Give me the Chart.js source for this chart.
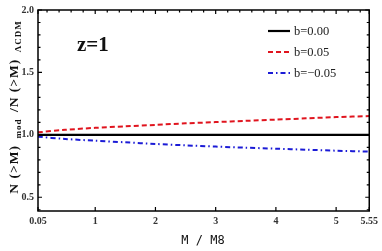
<!DOCTYPE html>
<html>
<head>
<meta charset="utf-8">
<script src="https://cdn.jsdelivr.net/npm/chart.js@4.4.1/dist/chart.umd.min.js"></script>
<style>
  html, body { margin: 0; padding: 0; background: #fff; }
  #wrap { width: 382px; height: 251px; position: relative; }
</style>
</head>
<body>
<div id="wrap"><canvas id="c"></canvas></div>
<script>
    // values
    const massRatio = [0.05, 0.5, 1, 1.5, 2, 2.5, 3, 3.5, 4, 4.5, 5, 5.55];
    const bZero = [1, 1, 1, 1, 1, 1, 1, 1, 1, 1, 1, 1];
    const bPos = [1.02, 1.04, 1.056, 1.068, 1.08, 1.092, 1.102, 1.112, 1.122, 1.132, 1.142, 1.15];
    const bNeg = [0.985, 0.967, 0.953, 0.94, 0.927, 0.916, 0.906, 0.897, 0.889, 0.881, 0.873, 0.866];
    const seriesLabels = ['b=0.00', 'b=0.05', 'b=\u22120.05'];
    const xTicks = [0.05, 1, 2, 3, 4, 5, 5.55];
    const yTicks = [0.5, 1.0, 1.5, 2.0];
    const xMinor = [0.2, 0.4, 0.6, 0.8, 1.2, 1.4, 1.6, 1.8, 2.2, 2.4, 2.6, 2.8, 3.2, 3.4, 3.6, 3.8,
        4.2, 4.4, 4.6, 4.8, 5.2, 5.4];
    const yMinor = [0.4, 0.6, 0.7, 0.8, 0.9, 1.1, 1.2, 1.3, 1.4, 1.6, 1.7, 1.8, 1.9];

    const pts = ys => massRatio.map((x, i) => ({ x, y: ys[i] }));

    const TICK_FONT = { family: 'Liberation Serif', size: 10, weight: 'bold' };

    const frame = {
        id: 'frame',
        afterDraw(chart) {
            const { ctx, chartArea: a, scales: { x, y } } = chart;
            ctx.save();
            ctx.strokeStyle = '#000';
            ctx.lineWidth = 1.5;
            ctx.strokeRect(a.left, a.top, a.right - a.left, a.bottom - a.top);
            ctx.lineWidth = 1.2;
            ctx.beginPath();
            const tx = (v, len, sides) => {
                const px = x.getPixelForValue(v);
                if (sides.includes('b')) { ctx.moveTo(px, a.bottom); ctx.lineTo(px, a.bottom - len); }
                if (sides.includes('t')) { ctx.moveTo(px, a.top); ctx.lineTo(px, a.top + len); }
            };
            const ty = (v, len) => {
                const py = y.getPixelForValue(v);
                ctx.moveTo(a.left, py); ctx.lineTo(a.left + len, py);
                ctx.moveTo(a.right, py); ctx.lineTo(a.right - len, py);
            };
            xTicks.forEach(v => tx(v, 4, 'bt'));
            xMinor.forEach(v => tx(v, 2.5, 't'));
            yTicks.forEach(v => ty(v, 4));
            yMinor.forEach(v => ty(v, 2.5));
            ctx.stroke();

            // z label
            ctx.fillStyle = '#111';
            ctx.font = 'bold 21px "Liberation Serif"';
            ctx.textBaseline = 'middle';
            ctx.fillText('z=1', 77, 46);

            // legend
            const rows = [31, 52, 73];
            chart.data.datasets.forEach((ds, i) => {
                ctx.strokeStyle = ds.borderColor;
                ctx.lineWidth = ds.borderWidth;
                ctx.setLineDash(ds.borderDash || []);
                ctx.beginPath();
                ctx.moveTo(268, rows[i]);
                ctx.lineTo(290, rows[i]);
                ctx.stroke();
                ctx.setLineDash([]);
                ctx.fillStyle = '#222';
                ctx.font = '12.5px "Liberation Serif"';
                ctx.fillText(ds.label, 294, rows[i] + 0.5);
            });

            // y title with subscripts
            const parts = [
                ['N (>M)', 13.5, 0], ['  mod  ', 9, 3], ['/N (>M)', 13.5, 0], ['  \u039BCDM', 9, 3]
            ];
            ctx.save();
            ctx.translate(13, 107);
            ctx.rotate(-Math.PI / 2);
            ctx.letterSpacing = '1px';
            let total = 0;
            parts.forEach(p => {
                ctx.font = `bold ${p[1]}px "Liberation Serif"`;
                total += ctx.measureText(p[0]).width;
            });
            let cx = -total / 2;
            ctx.fillStyle = '#111';
            ctx.textBaseline = 'alphabetic';
            parts.forEach(p => {
                ctx.font = `bold ${p[1]}px "Liberation Serif"`;
                ctx.fillText(p[0], cx, 4.5 + p[2]);
                cx += ctx.measureText(p[0]).width;
            });
            ctx.restore();

            // x title
            ctx.fillStyle = '#111';
            ctx.font = '12px "DejaVu Sans Mono"';
            ctx.textAlign = 'center';
            ctx.fillText('M / M8', 203, 241);
            ctx.restore();
        }
    };

    new Chart(document.getElementById('c'), {
        type: 'line',
        data: {
            datasets: [
                { label: seriesLabels[0], data: pts(bZero), borderColor: '#000', borderWidth: 2.2 },
                { label: seriesLabels[1], data: pts(bPos), borderColor: '#e0141e', borderWidth: 2, borderDash: [5, 3] },
                { label: seriesLabels[2], data: pts(bNeg), borderColor: '#1b1bd6', borderWidth: 2, borderDash: [5, 3, 1.5, 3] },
            ],
        },
        options: {
            responsive: true,
            maintainAspectRatio: false,
            animation: false,
            layout: { padding: { left: 0, top: 6, right: 12, bottom: 0 } },
            elements: { point: { radius: 0 }, line: { tension: 0.3, fill: false } },
            plugins: { legend: { display: false }, tooltip: { enabled: false } },
            scales: {
                x: {
                    type: 'linear',
                    min: 0.05,
                    max: 5.55,
                    afterBuildTicks: s => { s.ticks = xTicks.map(v => ({ value: v })); },
                    afterFit: s => { s.height = 40; },
                    grid: { display: false, drawTicks: false },
                    border: { display: false },
                    ticks: {
                        font: TICK_FONT, color: '#333', padding: 4, maxRotation: 0, autoSkip: false,
                        callback: v => String(v),
                    },
                },
                y: {
                    min: 0.39,
                    max: 2.0,
                    afterBuildTicks: s => { s.ticks = yTicks.map(v => ({ value: v })); },
                    afterFit: s => { s.width = 38; },
                    grid: { display: false, drawTicks: false },
                    border: { display: false },
                    ticks: {
                        font: TICK_FONT, color: '#333', padding: 4,
                        callback: v => v.toFixed(1),
                    },
                },
            },
        },
        plugins: [frame],
    });
</script>
</body>
</html>
